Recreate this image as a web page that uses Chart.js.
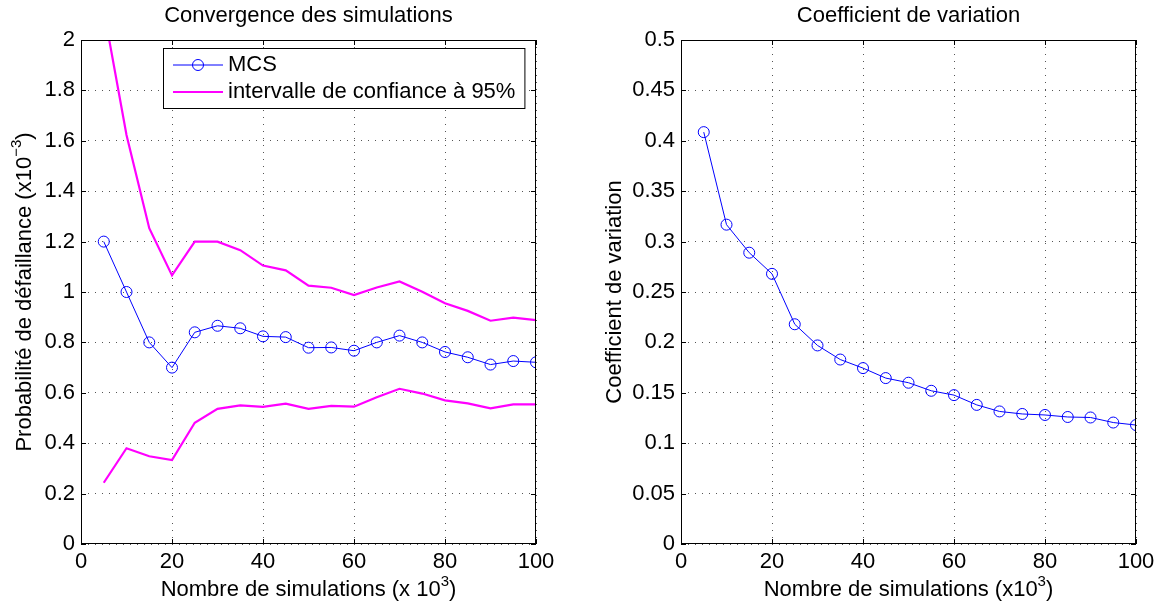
<!DOCTYPE html>
<html>
<head>
<meta charset="utf-8">
<script src="https://cdn.jsdelivr.net/npm/chart.js@4.4.1/dist/chart.umd.min.js"></script>
<style>
  html, body { margin: 0; padding: 0; background: #fff; }
  #page { position: relative; width: 1164px; height: 615px; }
  .panneau { position: absolute; top: 0; width: 582px; height: 615px; }
</style>
</head>
<body>
<div id="page">
  <div class="panneau" style="left:0"><canvas id="convergence" width="582" height="615"></canvas></div>
  <div class="panneau" style="left:582px"><canvas id="coefficient" width="582" height="615"></canvas></div>
</div>
<script>
// ---- données ----
const nbSimulations = [5, 10, 15, 20, 25, 30, 35, 40, 45, 50, 55, 60, 65, 70, 75, 80, 85, 90, 95, 100];
const probaMCS = [1.2, 1.0, 0.80, 0.70, 0.84, 0.866, 0.856, 0.824, 0.821, 0.779, 0.780, 0.767, 0.80, 0.827, 0.80, 0.762, 0.741, 0.712, 0.726, 0.721];
const icHaut = [2.12, 1.623, 1.253, 1.066, 1.2, 1.2, 1.166, 1.105, 1.086, 1.025, 1.017, 0.988, 1.018, 1.042, 1.001, 0.955, 0.925, 0.886, 0.898, 0.888];
const icBas = [0.243, 0.380, 0.348, 0.333, 0.481, 0.536, 0.550, 0.544, 0.557, 0.536, 0.548, 0.545, 0.582, 0.616, 0.597, 0.570, 0.558, 0.538, 0.554, 0.554];
const coefVariation = [0.4086, 0.3168, 0.289, 0.268, 0.218, 0.197, 0.183, 0.1745, 0.1646, 0.160, 0.152, 0.1477, 0.138, 0.1315, 0.129, 0.128, 0.126, 0.1255, 0.1205, 0.118];

const ticksX = [0, 20, 40, 60, 80, 100];
const ticksProba = [0, 0.2, 0.4, 0.6, 0.8, 1, 1.2, 1.4, 1.6, 1.8, 2];
const ticksCoef = [0, 0.05, 0.1, 0.15, 0.2, 0.25, 0.3, 0.35, 0.4, 0.45, 0.5];

const POLICE = '"Liberation Sans", Arial, sans-serif';
Chart.defaults.font.family = POLICE;
Chart.defaults.font.size = 22;
Chart.defaults.color = '#000';

const points = ys => nbSimulations.map((x, i) => ({ x: x, y: ys[i] }));

// texte avec exposant, centré sur (cx, cy)
function texteExposant(ctx, morceaux, cx, cy) {
    const fNormal = '22px ' + POLICE, fSup = '15px ' + POLICE;
    let total = 0;
    morceaux.forEach(m => { ctx.font = m.sup ? fSup : fNormal; total += ctx.measureText(m.t).width; });
    let x = cx - total / 2;
    ctx.textAlign = 'left';
    ctx.textBaseline = 'middle';
    morceaux.forEach(m => {
        ctx.font = m.sup ? fSup : fNormal;
        ctx.fillText(m.t, x, m.sup ? cy - 8 : cy);
        x += ctx.measureText(m.t).width;
    });
}

// cadre, graduations internes, titres, légende façon MATLAB
const cadreMatlab = {
    id: 'cadreMatlab',
    afterDraw(chart, args, opts) {
        const { ctx, chartArea: a, scales } = chart;
        ctx.save();
        ctx.strokeStyle = '#000';
        ctx.lineWidth = 1;
        ctx.strokeRect(a.left + 0.5, a.top + 0.5, a.right - a.left - 1, a.bottom - a.top - 1);

        ctx.beginPath();
        scales.x.ticks.forEach(t => {
            const px = Math.round(scales.x.getPixelForValue(t.value)) + 0.5;
            ctx.moveTo(px, a.bottom); ctx.lineTo(px, a.bottom - 5);
            ctx.moveTo(px, a.top); ctx.lineTo(px, a.top + 5);
        });
        scales.y.ticks.forEach(t => {
            const py = Math.round(scales.y.getPixelForValue(t.value)) + 0.5;
            ctx.moveTo(a.left, py); ctx.lineTo(a.left + 5, py);
            ctx.moveTo(a.right, py); ctx.lineTo(a.right - 5, py);
        });
        ctx.stroke();

        const cx = (a.left + a.right) / 2, cy = (a.top + a.bottom) / 2;
        ctx.fillStyle = '#000';
        ctx.font = '22px ' + POLICE;
        ctx.textAlign = 'center';
        ctx.textBaseline = 'middle';
        ctx.fillText(opts.titre, cx, a.top - 24);

        texteExposant(ctx, opts.titreX, cx, a.bottom + 46);

        ctx.save();
        ctx.translate(a.left - opts.decalageY, cy);
        ctx.rotate(-Math.PI / 2);
        texteExposant(ctx, opts.titreY, 0, 0);
        ctx.restore();

        if (opts.legende) {
            const ds = chart.data.datasets;
            ctx.font = '22px ' + POLICE;
            const largeurTexte = Math.max(...opts.legende.map(l => ctx.measureText(l.texte).width));
            const gx = a.left + 82, gy = a.top + 8;
            const w = 65 + largeurTexte + 9, h = 60;
            ctx.fillStyle = '#fff';
            ctx.fillRect(gx, gy, w, h);
            ctx.strokeStyle = '#000';
            ctx.lineWidth = 1;
            ctx.strokeRect(gx + 0.5, gy + 0.5, w, h);
            opts.legende.forEach((l, i) => {
                const d = ds[l.dataset];
                const ly = gy + 17 + i * 27;
                ctx.strokeStyle = d.borderColor;
                ctx.lineWidth = d.borderWidth;
                ctx.beginPath();
                ctx.moveTo(gx + 10, ly); ctx.lineTo(gx + 60, ly);
                ctx.stroke();
                if (d.pointRadius > 0) {
                    ctx.lineWidth = d.pointBorderWidth || 1;
                    ctx.beginPath();
                    ctx.arc(gx + 35, ly, d.pointRadius, 0, Math.PI * 2);
                    ctx.stroke();
                }
                ctx.fillStyle = '#000';
                ctx.textAlign = 'left';
                ctx.textBaseline = 'middle';
                ctx.fillText(l.texte, gx + 65, ly);
            });
        }
        ctx.restore();
    }
};

function axes(ticksY, largeurY) {
    const grille = { color: '#555', lineWidth: 1, drawTicks: false };
    const bord = { display: false, dash: [1, 6] };
    const fmt = v => String(Number(v.toFixed(2)));
    return {
        x: {
            type: 'linear', min: 0, max: 100,
            afterBuildTicks: s => { s.ticks = ticksX.map(v => ({ value: v })); },
            afterFit: s => { s.height = 71; },
            grid: grille, border: bord,
            ticks: { padding: 5, callback: fmt, maxRotation: 0 }
        },
        y: {
            min: ticksY[0], max: ticksY[ticksY.length - 1],
            afterBuildTicks: s => { s.ticks = ticksY.map(v => ({ value: v })); },
            afterFit: s => { s.width = largeurY; },
            grid: grille, border: bord,
            ticks: { padding: 6, callback: fmt }
        }
    };
}

const cercle = {
    pointStyle: 'circle', pointRadius: 5.5, pointHoverRadius: 5.5,
    pointBackgroundColor: 'rgba(0,0,0,0)', pointBorderColor: '#0000ff', pointBorderWidth: 1
};

new Chart(document.getElementById('convergence'), {
    type: 'line',
    data: {
        datasets: [
            Object.assign({ label: 'MCS', data: points(probaMCS), borderColor: '#0000ff', borderWidth: 1, tension: 0 }, cercle),
            { label: 'intervalle de confiance à 95%', data: points(icHaut), borderColor: '#ff00ff', borderWidth: 2.2, pointRadius: 0, tension: 0 },
            { label: 'borne basse', data: points(icBas), borderColor: '#ff00ff', borderWidth: 2.2, pointRadius: 0, tension: 0 }
        ]
    },
    options: {
        responsive: false, animation: false,
        layout: { padding: { left: 0, right: 46, top: 40, bottom: 0 } },
        scales: axes(ticksProba, 81),
        plugins: {
            legend: { display: false }, tooltip: { enabled: false },
            cadreMatlab: {
                titre: 'Convergence des simulations',
                titreX: [{ t: 'Nombre de simulations (x 10' }, { t: '3', sup: true }, { t: ')' }],
                titreY: [{ t: 'Probabilité de défaillance (x10' }, { t: '−3', sup: true }, { t: ')' }],
                decalageY: 56,
                legende: [{ dataset: 0, texte: 'MCS' }, { dataset: 1, texte: 'intervalle de confiance à 95%' }]
            }
        }
    },
    plugins: [cadreMatlab]
});

new Chart(document.getElementById('coefficient'), {
    type: 'line',
    data: {
        datasets: [
            Object.assign({ label: 'Coefficient de variation', data: points(coefVariation), borderColor: '#0000ff', borderWidth: 1, tension: 0 }, cercle)
        ]
    },
    options: {
        responsive: false, animation: false,
        layout: { padding: { left: 0, right: 28, top: 40, bottom: 0 } },
        scales: axes(ticksCoef, 99),
        plugins: {
            legend: { display: false }, tooltip: { enabled: false },
            cadreMatlab: {
                titre: 'Coefficient de variation',
                titreX: [{ t: 'Nombre de simulations (x10' }, { t: '3', sup: true }, { t: ')' }],
                titreY: [{ t: 'Coefficient de variation' }],
                decalageY: 66
            }
        }
    },
    plugins: [cadreMatlab]
});
</script>
</body>
</html>
